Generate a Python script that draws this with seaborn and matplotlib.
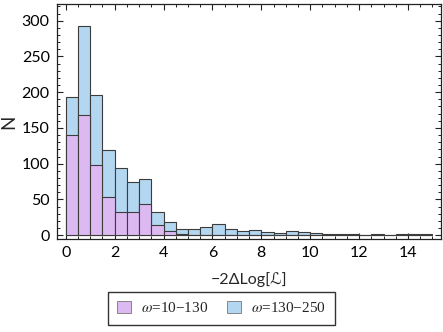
import numpy as np
import pandas as pd
import matplotlib
matplotlib.use("Agg")
import matplotlib.pyplot as plt
from matplotlib.patches import Patch
from matplotlib.ticker import MultipleLocator
import seaborn as sns

# ---- data ----
bin_edges = [i * 0.5 for i in range(31)]
series_names = ["ω=10−130", "ω=130−250"]
legend_labels = [r"$\omega$=10−130", r"$\omega$=130−250"]
counts_low = [140, 168, 98, 54, 33, 33, 43, 14, 6, 2,
              0, 0, 0, 0, 0, 0, 0, 0, 0, 0,
              0, 0, 0, 0, 0, 0, 0, 0, 0, 0]
counts_high = [193, 292, 196, 119, 94, 75, 78, 33, 18, 8,
               9, 11, 15, 8, 6, 7, 5, 3, 6, 5,
               3, 1, 1, 1, 0, 2, 0, 2, 1, 1]
x_ticks = [0, 2, 4, 6, 8, 10, 12, 14]
y_ticks = [0, 50, 100, 150, 200, 250, 300]

colors = {"ω=10−130": "#DDB9F1", "ω=130−250": "#B4D7F1"}
edge = "#3c3c3c"

sns.set_theme(style="white")
plt.rcParams["font.family"] = ["Lato", "DejaVu Sans"]
plt.rcParams["mathtext.fontset"] = "stix"

edges_arr = np.array(bin_edges)
centers = (edges_arr[:-1] + edges_arr[1:]) / 2
df = pd.concat([
    pd.DataFrame({"x": centers, "w": counts_high, "s": series_names[1]}),
    pd.DataFrame({"x": centers, "w": counts_low, "s": series_names[0]}),
], ignore_index=True)

fig = plt.figure(figsize=(4.43, 3.32), dpi=100)
ax = fig.add_axes([0.128, 0.280, 0.8675, 0.707])

for name in [series_names[1], series_names[0]]:
    sub = df[(df["s"] == name) & (df["w"] > 0)].reset_index(drop=True)
    sns.histplot(data=sub, x="x", weights="w", bins=bin_edges, ax=ax,
                 color=colors[name], alpha=1, edgecolor=edge, linewidth=0.8)

ax.set_xlim(-0.37, 15.35)
ax.set_ylim(-5.5, 323)
ax.set_xticks(x_ticks)
ax.set_yticks(y_ticks)
ax.xaxis.set_minor_locator(MultipleLocator(0.5))
ax.yaxis.set_minor_locator(MultipleLocator(10))
ax.tick_params(which="both", direction="in", top=True, right=True,
               bottom=True, left=True, colors="#222222", labelcolor="black")
ax.tick_params(which="major", length=4.5, width=0.8, labelsize=11.5, pad=5)
ax.tick_params(which="minor", length=2.5, width=0.7)
for s in ax.spines.values():
    s.set_color("#222222")
    s.set_linewidth(0.9)

ax.set_xlabel("−2ΔLog[ℒ]", fontsize=11.5, labelpad=9)
ax.set_ylabel("N", fontsize=13.5, labelpad=3)

handles = [Patch(facecolor=colors[n], edgecolor="#777777", linewidth=0.6) for n in series_names]
leg = fig.legend(handles, legend_labels, loc="center", bbox_to_anchor=(0.5, 0.072),
                 ncol=2, frameon=True, fancybox=False, edgecolor="black",
                 prop={"family": "Liberation Serif", "size": 11},
                 handlelength=0.9, handleheight=0.9, columnspacing=1.2,
                 handletextpad=0.7, borderpad=0.6)
leg.get_frame().set_linewidth(1.0)

fig.savefig("out.png", dpi=100)
